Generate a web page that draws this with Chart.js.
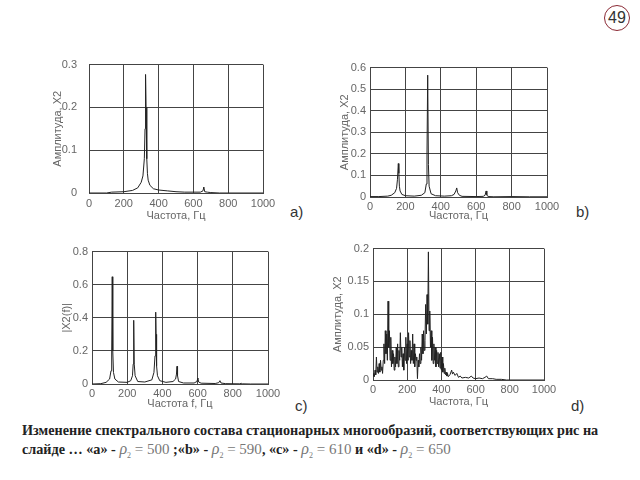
<!DOCTYPE html>
<html lang="ru">
<head>
  <meta charset="UTF-8">
  <title>Спектры X2</title>
  <script src="https://cdn.jsdelivr.net/npm/chart.js"></script>
  <style>
    body { margin: 0; width: 640px; height: 480px; background: #fff; position: relative; overflow: hidden; font-family: "Liberation Sans", Arial, sans-serif; }
    .box { position: absolute; }
    .tag { position: absolute; font-size: 15px; color: #333; }
    .note { position: absolute; left: 22px; font-family: "Liberation Serif", "Times New Roman", serif; font-weight: bold; font-size: 14.2px; color: #222; white-space: nowrap; }
    .eq { font-weight: normal; color: #777; font-size: 15px; }
    .eq i { font-size: 16px; }
    .eq sub { font-size: 8px; }
    #num { position: absolute; left: 604px; top: 5px; width: 24px; height: 24px; border: 1.5px solid #8b2a35; border-radius: 50%; text-align: center; line-height: 24px; font-size: 16px; color: #333; }
  </style>
</head>
<body>
  <div id="num">49</div>

  <div class="box" id="boxA"><canvas id="chartA"></canvas></div>
  <div class="box" id="boxB"><canvas id="chartB"></canvas></div>
  <div class="box" id="boxC"><canvas id="chartC"></canvas></div>
  <div class="box" id="boxD"><canvas id="chartD"></canvas></div>

  <div class="tag" style="left:290px; top:203px;">a)</div>
  <div class="tag" style="left:576px; top:203px;">b)</div>
  <div class="tag" style="left:295px; top:397px;">c)</div>
  <div class="tag" style="left:571px; top:397px;">d)</div>

  <div class="note" style="top:422px;">Изменение спектрального состава стационарных многообразий, соответствующих рис на</div>
  <div class="note" style="top:440px;">слайде … «a» - <span class="eq"><i>ρ</i><sub>2</sub> = 500</span> ;«b» - <span class="eq"><i>ρ</i><sub>2</sub> = 590</span>, «c» - <span class="eq"><i>ρ</i><sub>2</sub> = 610</span> и «d» - <span class="eq"><i>ρ</i><sub>2</sub> = 650</span></div>

  <script>
    // a) rho2 = 500
    const aFreq = [0, 100, 130, 200, 250, 280, 300, 310, 318, 322, 325, 328, 332, 336, 340, 350, 370, 400, 450, 500, 550, 600, 640, 655, 660, 665, 680, 700, 750, 1000];
    const aAmp  = [0, 0, 0.002, 0.003, 0.006, 0.012, 0.025, 0.04, 0.08, 0.15, 0.277, 0.2, 0.08, 0.045, 0.03, 0.018, 0.01, 0.007, 0.005, 0.003, 0.002, 0.002, 0.002, 0.005, 0.014, 0.003, 0.002, 0.001, 0, 0];

    // b) rho2 = 590
    const bFreq = [0, 50, 100, 120, 140, 150, 155, 160, 163, 166, 170, 180, 200, 250, 290, 310, 318, 322, 326, 330, 334, 345, 370, 420, 460, 475, 485, 490, 495, 505, 520, 600, 640, 650, 656, 660, 664, 672, 700, 800, 900, 1000];
    const bAmp  = [0.002, 0.002, 0.004, 0.008, 0.02, 0.04, 0.08, 0.155, 0.11, 0.05, 0.028, 0.012, 0.006, 0.004, 0.008, 0.02, 0.06, 0.2, 0.565, 0.15, 0.05, 0.015, 0.006, 0.004, 0.006, 0.012, 0.028, 0.042, 0.02, 0.008, 0.003, 0.002, 0.003, 0.008, 0.028, 0.01, 0.004, 0.002, 0.001, 0.002, 0.001, 0.001];

    // c) rho2 = 610
    const cFreq = [0, 50, 80, 100, 108, 112, 115, 118, 122, 130, 150, 200, 220, 230, 234, 237, 240, 245, 260, 300, 340, 352, 358, 362, 364, 367, 372, 385, 420, 460, 475, 480, 483, 486, 492, 520, 580, 596, 600, 602, 606, 620, 700, 720, 727, 733, 760, 840, 848, 856, 900, 1000];
    const cAmp  = [0, 0.002, 0.01, 0.03, 0.08, 0.2, 0.648, 0.2, 0.07, 0.03, 0.012, 0.01, 0.02, 0.05, 0.12, 0.385, 0.12, 0.05, 0.015, 0.012, 0.025, 0.07, 0.17, 0.434, 0.3, 0.11, 0.05, 0.02, 0.01, 0.015, 0.03, 0.06, 0.107, 0.05, 0.015, 0.006, 0.006, 0.015, 0.03, 0.036, 0.012, 0.005, 0.003, 0.008, 0.02, 0.006, 0.002, 0.001, 0.004, 0.001, 0, 0];

    // d) rho2 = 650 (шумный спектр)
    const dFreq = [0, 4, 8, 12, 16, 20, 24, 28, 32, 36, 40, 44, 48, 52, 56, 60, 64, 68, 72, 76,
                   80, 84, 88, 92, 96, 100, 104, 108, 112, 116, 120, 124, 128, 132, 136, 140, 144, 148, 152, 156,
                   160, 164, 168, 172, 176, 180, 184, 188, 192, 196, 200, 204, 208, 212, 216, 220, 224, 228, 232, 236,
                   240, 244, 248, 252, 256, 260, 264, 268, 272, 276, 280, 284, 288, 292, 296, 300, 304, 308, 312, 316,
                   320, 324, 328, 332, 336, 340, 344, 348, 352, 356, 360, 364, 368, 372, 376, 380, 384, 388, 392, 396,
                   400, 404, 408, 412, 416, 420, 424, 428, 432, 436, 440, 450, 460, 465, 470, 480, 490, 500, 510, 520,
                   540, 560, 575, 585, 600, 620, 640, 655, 665, 675, 700, 720, 750, 780, 800, 1000];
    const dAmp  = [0.006, 0.01, 0.005, 0.015, 0.008, 0.035, 0.012, 0.02, 0.01, 0.025, 0.012, 0.03, 0.015, 0.02, 0.01, 0.03, 0.055, 0.025, 0.075, 0.04,
                   0.07, 0.03, 0.12, 0.05, 0.075, 0.03, 0.065, 0.02, 0.045, 0.025, 0.04, 0.015, 0.035, 0.02, 0.05, 0.025, 0.055, 0.02, 0.045, 0.03,
                   0.072, 0.035, 0.05, 0.02, 0.04, 0.015, 0.05, 0.03, 0.065, 0.025, 0.055, 0.03, 0.072, 0.035, 0.06, 0.025, 0.045, 0.03, 0.07, 0.025,
                   0.055, 0.02, 0.04, 0.03, 0.035, 0.002, 0.03, 0.02, 0.04, 0.025, 0.05, 0.03, 0.07, 0.04, 0.075, 0.045, 0.06, 0.115, 0.07, 0.13,
                   0.085, 0.195, 0.075, 0.105, 0.05, 0.075, 0.03, 0.065, 0.025, 0.055, 0.03, 0.05, 0.02, 0.045, 0.025, 0.042, 0.02, 0.04, 0.018, 0.042,
                   0.015, 0.035, 0.012, 0.025, 0.01, 0.018, 0.008, 0.012, 0.006, 0.01, 0.005, 0.008, 0.015, 0.009, 0.012, 0.007, 0.01, 0.004, 0.006, 0.003,
                   0.004, 0.003, 0.006, 0.003, 0.002, 0.003, 0.002, 0.004, 0.006, 0.002, 0.002, 0.001, 0.001, 0, 0, 0];

    const xTicks = [0, 200, 400, 600, 800, 1000];

    const GRID = '#444';
    const TXT = '#666';
    const FONT = { size: 11, family: 'Liberation Sans' };

    // plot = область графика на странице; yGap/xGap = расстояние до подписи оси
    function makeChart(id, boxId, freq, amp, plot, yMax, yStep, yTitle, xTitle, yGap, xGap, yPad, xPad) {
      const W = yGap + 7, H = xGap + 7;
      const pw = plot.r - plot.l, ph = plot.b - plot.t;
      const box = document.getElementById(boxId);
      box.style.left = (plot.l - W) + 'px';
      box.style.top = (plot.t - 10) + 'px';
      const cw = W + pw + 22, ch = 10 + ph + H;
      box.style.width = cw + 'px';
      box.style.height = ch + 'px';
      const canvas = document.getElementById(id);
      canvas.width = cw; canvas.height = ch;

      const pts = freq.map((f, i) => ({ x: f, y: amp[i] }));
      new Chart(canvas.getContext('2d'), {
        type: 'line',
        data: { datasets: [{ data: pts, borderColor: '#222', borderWidth: 1, pointRadius: 0, tension: 0, fill: false }] },
        options: {
          responsive: false,
          animation: false,
          layout: { padding: { left: 0, top: 10, right: 22, bottom: 0 } },
          plugins: { legend: { display: false }, tooltip: { enabled: false } },
          scales: {
            x: {
              type: 'linear', min: 0, max: 1000,
              afterBuildTicks: s => { s.ticks = xTicks.map(v => ({ value: v })); },
              afterFit: s => { s.height = H; },
              grid: { color: GRID, drawTicks: false },
              border: { color: GRID },
              ticks: { color: TXT, font: FONT, padding: xPad, maxRotation: 0, callback: v => String(v) },
              title: { display: true, text: xTitle, color: TXT, font: FONT, padding: 0 }
            },
            y: {
              min: 0, max: yMax,
              ticks: { stepSize: yStep, color: TXT, font: FONT, padding: yPad, callback: v => String(+v.toFixed(3)) },
              afterFit: s => { s.width = W; },
              grid: { color: GRID, drawTicks: false },
              border: { color: GRID },
              title: { display: true, text: yTitle, color: TXT, font: FONT, padding: 0 }
            }
          }
        }
      });
    }

    makeChart('chartA', 'boxA', aFreq, aAmp, { l: 89, t: 56, r: 263, b: 193 }, 0.3, 0.1, 'Амплитуда, X2', 'Частота, Гц', 31, 23, 12, 4);
    makeChart('chartB', 'boxB', bFreq, bAmp, { l: 370, t: 67, r: 547, b: 197 }, 0.6, 0.1, 'Амплитуда, X2', 'Частота, Гц', 25, 19, 4, 3);
    makeChart('chartC', 'boxC', cFreq, cAmp, { l: 92, t: 251, r: 268, b: 384 }, 0.8, 0.2, '|X2(f)|', 'Частота f, Гц', 25, 20, 4, 3);
    makeChart('chartD', 'boxD', dFreq, dAmp, { l: 373, t: 248, r: 544, b: 380 }, 0.2, 0.05, 'Амплитуда, X2', 'Частота, Гц', 35, 22, 4, 3);
  </script>
</body>
</html>
